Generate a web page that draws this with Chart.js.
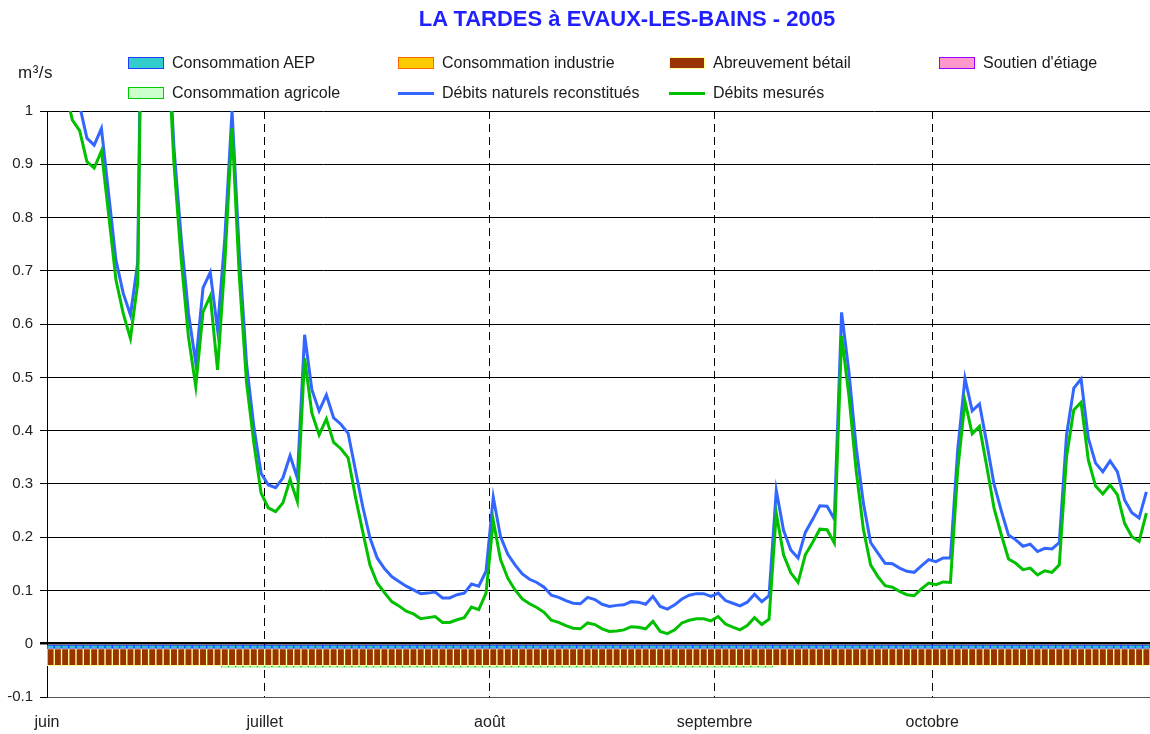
<!DOCTYPE html>
<html>
<head>
<meta charset="utf-8">
<title>LA TARDES à EVAUX-LES-BAINS - 2005</title>
<script src="https://cdn.jsdelivr.net/npm/chart.js@4.4.0/dist/chart.umd.min.js"></script>
<style>
  body { margin: 0; background: #fff; }
  #wrap { position: relative; width: 1150px; height: 734px; font-family: "Liberation Sans", Arial, sans-serif; color: #1a1a1a; }
  #chart { position: absolute; left: 0; top: 0; }
  #title { position: absolute; top: 6px; left: 627px; transform: translateX(-50%); white-space: nowrap;
           font-size: 22px; font-weight: bold; color: #1f1fff; }
  #unit { position: absolute; left: 18px; top: 63px; font-size: 17px; letter-spacing: 0.5px; }
  .leg { position: absolute; display: flex; align-items: center; font-size: 16px; white-space: nowrap; }
  .leg .sw { width: 36px; height: 12px; box-sizing: border-box; margin-right: 8px; }
  .leg .ln { width: 36px; height: 3px; margin-right: 8px; }
</style>
</head>
<body>
<div id="wrap">
  <canvas id="chart" width="1150" height="734"></canvas>
  <div id="title">LA TARDES à EVAUX-LES-BAINS - 2005</div>
  <div id="unit">m³/s</div>
  <div id="legend"></div>
</div>
<script>
// months shown on the x axis (day index of the 1st of each month, from 1 June)
const monthLabels = ['juin', 'juillet', 'août', 'septembre', 'octobre'];
const monthStart = [0, 30, 61, 92, 122];
const nbDays = 152;

const yTicks = [-0.1, 0, 0.1, 0.2, 0.3, 0.4, 0.5, 0.6, 0.7, 0.8, 0.9, 1];

// daily flows, m3/s (1 June -> 30 October)
const debitsNaturels = [
  1.16, 1.12, 1.08, 1.04, 1.01, 0.949, 0.936, 0.967, 0.844, 0.72,
  0.658, 0.617, 0.715, 1.75, 1.55, 1.35, 1.2, 0.93, 0.76, 0.62,
  0.527, 0.668, 0.697, 0.59, 0.76, 1.0, 0.733, 0.525, 0.408, 0.32,
  0.298, 0.293, 0.311, 0.353, 0.311, 0.58, 0.477, 0.437, 0.467, 0.424,
  0.412, 0.395, 0.326, 0.258, 0.199, 0.161, 0.141, 0.126, 0.117, 0.108,
  0.101, 0.094, 0.095, 0.097, 0.086, 0.086, 0.092, 0.095, 0.112, 0.108,
  0.136, 0.275, 0.201, 0.168, 0.148, 0.131, 0.121, 0.115, 0.106, 0.091,
  0.087, 0.081, 0.076, 0.075, 0.087, 0.083, 0.074, 0.070, 0.072, 0.073,
  0.079, 0.078, 0.074, 0.089, 0.070, 0.065, 0.073, 0.084, 0.091, 0.094,
  0.094, 0.089, 0.095, 0.081, 0.076, 0.071, 0.078, 0.093, 0.079, 0.090,
  0.288, 0.213, 0.176, 0.161, 0.209, 0.233, 0.259, 0.258, 0.234, 0.622,
  0.511, 0.370, 0.264, 0.190, 0.170, 0.151, 0.150, 0.142, 0.136, 0.134,
  0.146, 0.158, 0.154, 0.161, 0.161, 0.364, 0.498, 0.437, 0.450, 0.377,
  0.300, 0.250, 0.204, 0.195, 0.183, 0.187, 0.173, 0.179, 0.178, 0.190,
  0.392, 0.480, 0.497, 0.386, 0.339, 0.323, 0.343, 0.323, 0.270, 0.246,
  0.236, 0.285
];
const debitsMesures = [
  1.12, 1.08, 1.04, 0.983, 0.963, 0.905, 0.893, 0.925, 0.805, 0.683,
  0.62, 0.573, 0.677, 1.7, 1.5, 1.3, 1.16, 0.90, 0.72, 0.575,
  0.483, 0.623, 0.653, 0.514, 0.714, 0.968, 0.69, 0.49, 0.377, 0.283,
  0.255, 0.248, 0.264, 0.308, 0.267, 0.536, 0.433, 0.392, 0.422, 0.378,
  0.366, 0.349, 0.276, 0.211, 0.148, 0.114, 0.096, 0.079, 0.071, 0.061,
  0.056, 0.047, 0.049, 0.051, 0.040, 0.040, 0.045, 0.049, 0.069, 0.064,
  0.095, 0.231, 0.158, 0.123, 0.101, 0.084, 0.075, 0.068, 0.059, 0.044,
  0.040, 0.034, 0.029, 0.028, 0.039, 0.036, 0.028, 0.023, 0.024, 0.026,
  0.032, 0.031, 0.028, 0.042, 0.023, 0.019, 0.026, 0.039, 0.044, 0.047,
  0.047, 0.043, 0.051, 0.037, 0.031, 0.026, 0.034, 0.049, 0.036, 0.046,
  0.245, 0.167, 0.133, 0.115, 0.167, 0.190, 0.215, 0.214, 0.189, 0.578,
  0.467, 0.326, 0.215, 0.148, 0.126, 0.109, 0.106, 0.098, 0.092, 0.090,
  0.103, 0.114, 0.111, 0.116, 0.115, 0.326, 0.455, 0.394, 0.408, 0.333,
  0.255, 0.205, 0.159, 0.151, 0.139, 0.142, 0.129, 0.137, 0.134, 0.148,
  0.351, 0.439, 0.453, 0.345, 0.296, 0.281, 0.298, 0.280, 0.226, 0.201,
  0.192, 0.245
];

// daily withdrawals (negative), m3/s
const consoAEP = [
  -0.009, -0.009, -0.009, -0.009, -0.009, -0.009, -0.009, -0.009, -0.009, -0.009,
  -0.009, -0.009, -0.009, -0.009, -0.009, -0.009, -0.009, -0.009, -0.009, -0.009,
  -0.009, -0.009, -0.009, -0.009, -0.009, -0.009, -0.009, -0.009, -0.009, -0.009,
  -0.009, -0.009, -0.009, -0.009, -0.009, -0.009, -0.009, -0.009, -0.009, -0.009,
  -0.009, -0.009, -0.009, -0.009, -0.009, -0.009, -0.009, -0.009, -0.009, -0.009,
  -0.009, -0.009, -0.009, -0.009, -0.009, -0.009, -0.009, -0.009, -0.009, -0.009,
  -0.009, -0.009, -0.009, -0.009, -0.009, -0.009, -0.009, -0.009, -0.009, -0.009,
  -0.009, -0.009, -0.009, -0.009, -0.009, -0.009, -0.009, -0.009, -0.009, -0.009,
  -0.009, -0.009, -0.009, -0.009, -0.009, -0.009, -0.009, -0.009, -0.009, -0.009,
  -0.009, -0.009, -0.009, -0.009, -0.009, -0.009, -0.009, -0.009, -0.009, -0.009,
  -0.009, -0.009, -0.009, -0.009, -0.009, -0.009, -0.009, -0.009, -0.009, -0.009,
  -0.009, -0.009, -0.009, -0.009, -0.009, -0.009, -0.009, -0.009, -0.009, -0.009,
  -0.009, -0.009, -0.009, -0.009, -0.009, -0.009, -0.009, -0.009, -0.009, -0.009,
  -0.009, -0.009, -0.009, -0.009, -0.009, -0.009, -0.009, -0.009, -0.009, -0.009,
  -0.009, -0.009, -0.009, -0.009, -0.009, -0.009, -0.009, -0.009, -0.009, -0.009,
  -0.009, -0.009
];
const consoIndustrie = [
  0, 0, 0, 0, 0, 0, 0, 0, 0, 0, 0, 0, 0, 0, 0, 0, 0, 0, 0, 0,
  0, 0, 0, 0, 0, 0, 0, 0, 0, 0, 0, 0, 0, 0, 0, 0, 0, 0, 0, 0,
  0, 0, 0, 0, 0, 0, 0, 0, 0, 0, 0, 0, 0, 0, 0, 0, 0, 0, 0, 0,
  0, 0, 0, 0, 0, 0, 0, 0, 0, 0, 0, 0, 0, 0, 0, 0, 0, 0, 0, 0,
  0, 0, 0, 0, 0, 0, 0, 0, 0, 0, 0, 0, 0, 0, 0, 0, 0, 0, 0, 0,
  0, 0, 0, 0, 0, 0, 0, 0, 0, 0, 0, 0, 0, 0, 0, 0, 0, 0, 0, 0,
  0, 0, 0, 0, 0, 0, 0, 0, 0, 0, 0, 0, 0, 0, 0, 0, 0, 0, 0, 0,
  0, 0, 0, 0, 0, 0, 0, 0, 0, 0, 0, 0
];
const abreuvementBetail = [
  -0.032, -0.032, -0.032, -0.032, -0.032, -0.032, -0.032, -0.032, -0.032, -0.032,
  -0.032, -0.032, -0.032, -0.032, -0.032, -0.032, -0.032, -0.032, -0.032, -0.032,
  -0.032, -0.032, -0.032, -0.032, -0.032, -0.032, -0.032, -0.032, -0.032, -0.032,
  -0.032, -0.032, -0.032, -0.032, -0.032, -0.032, -0.032, -0.032, -0.032, -0.032,
  -0.032, -0.032, -0.032, -0.032, -0.032, -0.032, -0.032, -0.032, -0.032, -0.032,
  -0.032, -0.032, -0.032, -0.032, -0.032, -0.032, -0.032, -0.032, -0.032, -0.032,
  -0.032, -0.032, -0.032, -0.032, -0.032, -0.032, -0.032, -0.032, -0.032, -0.032,
  -0.032, -0.032, -0.032, -0.032, -0.032, -0.032, -0.032, -0.032, -0.032, -0.032,
  -0.032, -0.032, -0.032, -0.032, -0.032, -0.032, -0.032, -0.032, -0.032, -0.032,
  -0.032, -0.032, -0.032, -0.032, -0.032, -0.032, -0.032, -0.032, -0.032, -0.032,
  -0.032, -0.032, -0.032, -0.032, -0.032, -0.032, -0.032, -0.032, -0.032, -0.032,
  -0.032, -0.032, -0.032, -0.032, -0.032, -0.032, -0.032, -0.032, -0.032, -0.032,
  -0.032, -0.032, -0.032, -0.032, -0.032, -0.032, -0.032, -0.032, -0.032, -0.032,
  -0.032, -0.032, -0.032, -0.032, -0.032, -0.032, -0.032, -0.032, -0.032, -0.032,
  -0.032, -0.032, -0.032, -0.032, -0.032, -0.032, -0.032, -0.032, -0.032, -0.032,
  -0.032, -0.032
];
const soutienEtiage = [
  0, 0, 0, 0, 0, 0, 0, 0, 0, 0, 0, 0, 0, 0, 0, 0, 0, 0, 0, 0,
  0, 0, 0, 0, 0, 0, 0, 0, 0, 0, 0, 0, 0, 0, 0, 0, 0, 0, 0, 0,
  0, 0, 0, 0, 0, 0, 0, 0, 0, 0, 0, 0, 0, 0, 0, 0, 0, 0, 0, 0,
  0, 0, 0, 0, 0, 0, 0, 0, 0, 0, 0, 0, 0, 0, 0, 0, 0, 0, 0, 0,
  0, 0, 0, 0, 0, 0, 0, 0, 0, 0, 0, 0, 0, 0, 0, 0, 0, 0, 0, 0,
  0, 0, 0, 0, 0, 0, 0, 0, 0, 0, 0, 0, 0, 0, 0, 0, 0, 0, 0, 0,
  0, 0, 0, 0, 0, 0, 0, 0, 0, 0, 0, 0, 0, 0, 0, 0, 0, 0, 0, 0,
  0, 0, 0, 0, 0, 0, 0, 0, 0, 0, 0, 0
];
const consoAgricole = [
  0, 0, 0, 0, 0, 0, 0, 0, 0, 0, 0, 0, 0, 0, 0, 0, 0, 0, 0, 0,
  0, 0, 0, 0, -0.003, -0.003, -0.003, -0.003, -0.003, -0.003,
  -0.003, -0.003, -0.003, -0.003, -0.003, -0.003, -0.003, -0.003, -0.003, -0.003,
  -0.003, -0.003, -0.003, -0.003, -0.003, -0.003, -0.003, -0.003, -0.003, -0.003,
  -0.003, -0.003, -0.003, -0.003, -0.003, -0.003, -0.003, -0.003, -0.003, -0.003,
  -0.003, -0.003, -0.003, -0.003, -0.003, -0.003, -0.003, -0.003, -0.003, -0.003,
  -0.003, -0.003, -0.003, -0.003, -0.003, -0.003, -0.003, -0.003, -0.003, -0.003,
  -0.003, -0.003, -0.003, -0.003, -0.003, -0.003, -0.003, -0.003, -0.003, -0.003,
  -0.003, -0.003, -0.003, -0.003, -0.003, -0.003, -0.003, -0.003, -0.003, -0.003,
  0, 0, 0, 0, 0, 0, 0, 0, 0, 0, 0, 0, 0, 0, 0, 0, 0, 0, 0, 0,
  0, 0, 0, 0, 0, 0, 0, 0, 0, 0, 0, 0, 0, 0, 0, 0, 0, 0, 0, 0,
  0, 0, 0, 0, 0, 0, 0, 0, 0, 0, 0, 0
];

// point for day i sits in the middle of its day slot
function toPoints(values) {
  return values.map((v, i) => ({ x: i + 0.5, y: v }));
}

const font = { family: '"Liberation Sans", Arial, sans-serif', size: 16 };

function barSet(label, values, fill, border) {
  return {
    type: 'bar', label: label, data: toPoints(values), stack: 'conso', order: 2,
    backgroundColor: fill, borderColor: border, borderWidth: 1, borderSkipped: false,
    barPercentage: 1, categoryPercentage: 1
  };
}

const datasets = [
  barSet('Consommation AEP', consoAEP, '#33cccc', '#1f3cff'),
  barSet('Consommation industrie', consoIndustrie, '#ffcc00', '#ff6600'),
  barSet('Abreuvement bétail', abreuvementBetail, '#993300', '#ffff99'),
  barSet("Soutien d'étiage", soutienEtiage, '#ff99cc', '#9900ff'),
  barSet('Consommation agricole', consoAgricole, '#ccffcc', '#00cc00'),
  { type: 'line', label: 'Débits naturels reconstitués', data: toPoints(debitsNaturels), stack: 'nat', order: 1,
    borderColor: '#3366ff', borderWidth: 3, pointRadius: 0, tension: 0, fill: false },
  { type: 'line', label: 'Débits mesurés', data: toPoints(debitsMesures), stack: 'mes', order: 0,
    borderColor: '#00c000', borderWidth: 3, pointRadius: 0, tension: 0, fill: false }
];

const chart = new Chart(document.getElementById('chart'), {
  type: 'bar',
  data: { datasets: datasets },
  options: {
    responsive: false,
    animation: false,
    layout: { padding: { top: 111, left: 0, right: 0, bottom: 0 } },
    plugins: { legend: { display: false }, title: { display: false }, tooltip: { enabled: false } },
    scales: {
      x: {
        type: 'linear', min: 0, max: nbDays, stacked: true, offset: false,
        afterBuildTicks: s => { s.ticks = monthStart.map(v => ({ value: v })); },
        afterFit: s => { s.height = 37; },
        ticks: {
          autoSkip: false, maxRotation: 0, padding: 16, color: '#222', font: font,
          callback: v => monthLabels[monthStart.indexOf(v)]
        },
        grid: { color: '#000', lineWidth: 1, drawTicks: false, offset: false },
        border: { color: '#555', width: 1, dash: [8, 5] }
      },
      y: {
        min: -0.1, max: 1, stacked: true,
        afterBuildTicks: s => { s.ticks = yTicks.map(v => ({ value: v })); },
        afterFit: s => { s.width = 47; },
        ticks: {
          padding: 7, color: '#222', font: { family: font.family, size: 15 },
          callback: v => String(Math.round(v * 10) / 10)
        },
        grid: {
          color: '#000', tickLength: 7, offset: false,
          lineWidth: c => (c.tick && Math.abs(c.tick.value) < 1e-9 ? 2.5 : 1)
        },
        border: { color: '#000', width: 1 }
      }
    }
  }
});

// legend laid out on a 4-column grid, like the original
const legendCols = [128, 398, 669, 939];
const legendRows = [63, 93];
const legendBox = document.getElementById('legend');
const legendOrder = [0, 1, 2, 3, 4, 5, 6];
legendOrder.forEach((di, k) => {
  const ds = chart.data.datasets[di];
  const item = document.createElement('div');
  item.className = 'leg';
  item.style.left = legendCols[k % 4] + 'px';
  item.style.top = (legendRows[Math.floor(k / 4)] - 10) + 'px';
  item.style.height = '20px';
  const sw = document.createElement('span');
  if (ds.type === 'line') {
    sw.className = 'ln';
    sw.style.background = ds.borderColor;
  } else {
    sw.className = 'sw';
    sw.style.background = ds.backgroundColor;
    sw.style.border = '1.5px solid ' + ds.borderColor;
  }
  item.appendChild(sw);
  const txt = document.createElement('span');
  txt.textContent = ds.label;
  item.appendChild(txt);
  legendBox.appendChild(item);
});
</script>
</body>
</html>
